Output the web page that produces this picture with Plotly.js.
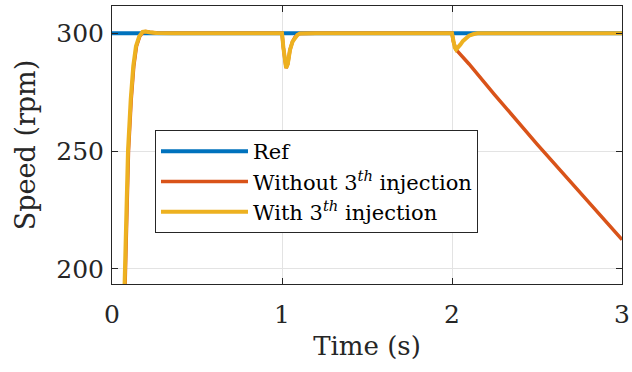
<!DOCTYPE html>
<html>
<head>
<meta charset="utf-8">
<script src="https://cdn.plot.ly/plotly-3.0.1.min.js"></script>
<style>html,body{margin:0;padding:0;background:#fff;}#chart{width:632px;height:372px;}</style>
</head>
<body>
<div id="chart"></div>
<script>
// Reference speed
const tRef = [0, 3];
const speedRef = [300, 300];

// With 3rd harmonic injection
const tWith = [0, 0.03, 0.05, 0.065, 0.074, 0.082, 0.094, 0.11, 0.125, 0.141, 0.16, 0.18, 0.196, 0.22, 0.26, 0.35,
  1.0, 1.008, 1.016, 1.024, 1.034, 1.047, 1.062, 1.076, 1.09, 1.106, 1.2,
  2.0, 2.008, 2.016, 2.024, 2.035, 2.05, 2.065, 2.08, 2.1, 2.124, 2.15, 2.3, 3.0];
const speedWith = [0, 60, 120, 168, 193.6, 215.3, 250, 271.9, 286, 294.5, 298.7, 300.6, 300.8, 300.5, 300.1, 300,
  300, 294, 288, 285.3, 287, 293, 296.5, 298.3, 299.3, 299.9, 300,
  300, 296.5, 294, 293.1, 293.8, 295.3, 296.8, 298, 299, 299.6, 300, 300, 300];

// Without 3rd harmonic injection
const tWithout = [0, 0.033, 0.053, 0.068, 0.077, 0.085, 0.097, 0.113, 0.128, 0.144, 0.163, 0.183, 0.199, 0.223, 0.263, 0.35,
  1.0, 1.008, 1.016, 1.024, 1.034, 1.047, 1.062, 1.076, 1.09, 1.106, 1.2,
  2.0, 2.008, 2.016, 2.024, 2.1, 2.25, 2.5, 2.75, 3.0];
const speedWithout = [0, 60, 120, 168, 193.6, 215.3, 250, 271.9, 286, 294.5, 298.7, 300.6, 300.8, 300.5, 300.1, 300,
  300, 294, 288, 285.3, 287, 293, 296.5, 298.3, 299.3, 299.9, 300,
  300, 296.5, 294, 293.1, 287, 274, 253, 232.5, 212.4];

const xTicks = [0, 1, 2, 3];
const yTicks = [200, 250, 300];
const names = ['Ref', 'Without 3<sup><i>th</i></sup> injection', 'With 3<sup><i>th</i></sup> injection'];

const FONT = '"DejaVu Serif", serif';

const traces = [
  {x: tRef, y: speedRef, name: names[0], mode: 'lines', line: {color: '#0072BD', width: 4}},
  {x: tWithout, y: speedWithout, name: names[1], mode: 'lines', line: {color: '#D95319', width: 3.5}},
  {x: tWith, y: speedWith, name: names[2], mode: 'lines', line: {color: '#EDB120', width: 4}}
];

const axisCommon = {
  showline: true, linecolor: '#262626', linewidth: 1, mirror: 'ticks',
  ticks: 'inside', ticklen: 6, tickcolor: '#262626', tickwidth: 1,
  showgrid: true, gridcolor: '#e3e3e3', gridwidth: 1, zeroline: false,
  tickfont: {family: FONT, size: 25, color: '#262626'}
};

const layout = {
  width: 632, height: 372,
  margin: {l: 112, r: 10, t: 6, b: 88},
  paper_bgcolor: '#ffffff', plot_bgcolor: '#ffffff',
  font: {family: FONT, color: '#262626'},
  showlegend: true,
  legend: {
    x: 0.0843, y: 0.554, xanchor: 'left', yanchor: 'top',
    bgcolor: '#ffffff', bordercolor: '#262626', borderwidth: 1,
    font: {family: FONT, size: 21, color: '#000000'},
    itemwidth: 87, tracegroupgap: 0
  },
  xaxis: Object.assign({}, axisCommon, {
    range: [0, 3], tickvals: xTicks, ticktext: xTicks.map(String),
    automargin: 'bottom',
    ticklabelstandoff: 8,
    title: {text: 'Time (s)', standoff: 8, font: {family: FONT, size: 26, color: '#262626'}}
  }),
  yaxis: Object.assign({}, axisCommon, {
    range: [193.6, 311.6], tickvals: yTicks, ticktext: yTicks.map(String),
    automargin: 'left',
    ticklabelstandoff: 2,
    title: {text: 'Speed (rpm)', standoff: 12, font: {family: FONT, size: 27, color: '#262626'}}
  })
};

Plotly.newPlot('chart', traces, layout, {staticPlot: true, displayModeBar: false});
</script>
</body>
</html>
